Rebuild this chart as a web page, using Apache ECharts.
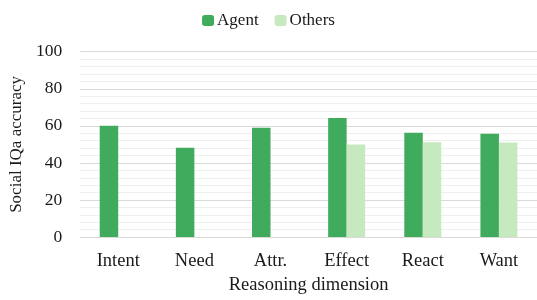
<!DOCTYPE html>
<html>
<head>
<meta charset="utf-8">
<script src="https://cdn.jsdelivr.net/npm/echarts@6/dist/echarts.min.js"></script>
<style>html,body{margin:0;padding:0;background:#fff}#c{width:537px;height:300px}</style>
</head>
<body>
<div id="c"></div>
<script>
var categories = ["Intent", "Need", "Attr.", "Effect", "React", "Want"];
var agentValues = [60, 48.2, 59, 64.3, 56.3, 55.7];
var othersValues = [null, null, null, 50, 51.2, 51];
var seriesNames = ["Agent", "Others"];
var yAxisTitle = "Social IQa accuracy";
var xAxisTitle = "Reasoning dimension";

var FONT = "Liberation Serif";
var TXT = "#1a1a1a";
var chart = echarts.init(document.getElementById('c'), null, {renderer: 'canvas'});
chart.setOption({
  animation: false,
  textStyle: {fontFamily: FONT},
  legend: {
    data: seriesNames,
    top: 7,
    left: 'center',
    itemWidth: 12,
    itemHeight: 11,
    itemGap: 16,
    textStyle: {fontFamily: FONT, fontSize: 17, color: TXT, padding: [0, 0, 0, -2]}
  },
  grid: {left: 79, right: -9, top: 51.7, bottom: 61.7, containLabel: false},
  xAxis: {
    type: 'category',
    data: categories,
    name: xAxisTitle,
    nameLocation: 'middle',
    nameGap: 33,
    nameTextStyle: {fontFamily: FONT, fontSize: 18.5, color: TXT},
    axisTick: {show: false},
    axisLine: {lineStyle: {color: '#d9d9d9', width: 1}},
    axisLabel: {fontFamily: FONT, fontSize: 18.5, color: TXT, margin: 15}
  },
  yAxis: {
    type: 'value',
    min: 0, max: 100, interval: 20,
    name: yAxisTitle,
    nameLocation: 'middle',
    nameGap: 52,
    nameTextStyle: {fontFamily: FONT, fontSize: 17, color: TXT},
    axisLine: {show: false},
    axisTick: {show: false},
    axisLabel: {fontFamily: FONT, fontSize: 17.5, color: TXT, margin: 18},
    splitLine: {lineStyle: {color: '#d9d9d9', width: 1}},
    minorTick: {show: false, splitNumber: 5},
    minorSplitLine: {show: true, lineStyle: {color: '#efefef', width: 1}}
  },
  series: [
    {name: seriesNames[0], type: 'bar', data: agentValues, barWidth: 18.5, barGap: '0%',
     itemStyle: {color: '#41ab5d'}},
    {name: seriesNames[1], type: 'bar', data: othersValues, barWidth: 18.5, barGap: '0%',
     itemStyle: {color: '#c7e9c0'}}
  ]
});
</script>
</body>
</html>
